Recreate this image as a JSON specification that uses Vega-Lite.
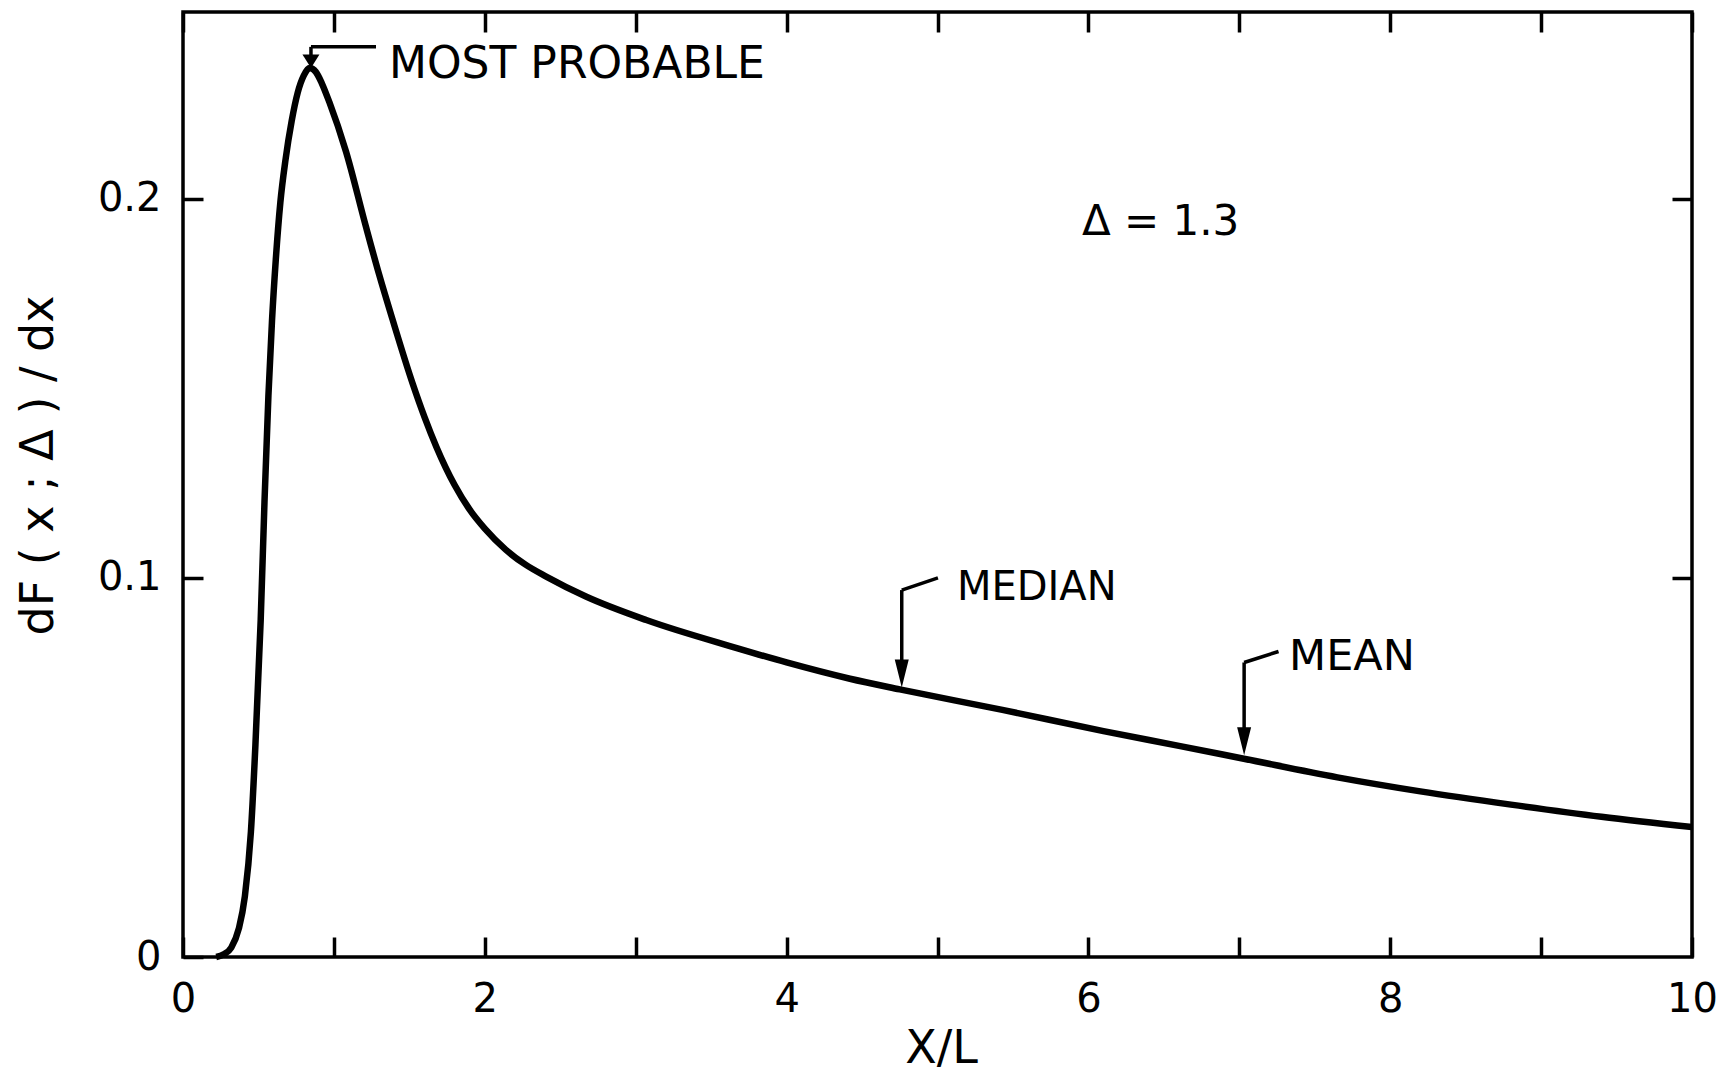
{
  "$schema": "https://vega.github.io/schema/vega-lite/v6.json",
  "width": 1509,
  "height": 945,
  "autosize": {"type": "none"},
  "padding": {"left": 183, "top": 12, "right": 28, "bottom": 119},
  "background": "white",
  "config": {
    "view": {"stroke": "black", "strokeWidth": 3.5},
    "font": "DejaVu Sans",
    "axis": {
      "domain": false, "grid": false,
      "tickColor": "black", "tickWidth": 3.5, "tickSize": -20,
      "labelColor": "black", "labelFont": "DejaVu Sans", "labelFontSize": 40, "labelPadding": 42,
      "labelFlush": false, "labelOverlap": false,
      "titleFont": "DejaVu Sans", "titleColor": "black", "titleFontWeight": "normal"
    }
  },
  "datasets": {
    "curve": [
      {"x": 0.22, "y": 0}, {"x": 0.27, "y": 0.0007}, {"x": 0.32, "y": 0.0025}, {"x": 0.37, "y": 0.0075},
      {"x": 0.41, "y": 0.016}, {"x": 0.45, "y": 0.033}, {"x": 0.48, "y": 0.056}, {"x": 0.515, "y": 0.089},
      {"x": 0.54, "y": 0.12}, {"x": 0.566, "y": 0.148}, {"x": 0.59, "y": 0.168}, {"x": 0.615, "y": 0.184},
      {"x": 0.645, "y": 0.199}, {"x": 0.68, "y": 0.2105}, {"x": 0.72, "y": 0.2205}, {"x": 0.76, "y": 0.228},
      {"x": 0.8, "y": 0.2325}, {"x": 0.84, "y": 0.2345}, {"x": 0.88, "y": 0.2335}, {"x": 0.92, "y": 0.2305},
      {"x": 0.97, "y": 0.2255}, {"x": 1.08, "y": 0.2125}, {"x": 1.21, "y": 0.193},
      {"x": 1.3, "y": 0.18}, {"x": 1.39, "y": 0.168}, {"x": 1.52, "y": 0.1515}, {"x": 1.6, "y": 0.1425},
      {"x": 1.68, "y": 0.1345}, {"x": 1.8, "y": 0.1245}, {"x": 1.9, "y": 0.118}, {"x": 2.0, "y": 0.113},
      {"x": 2.14, "y": 0.1074}, {"x": 2.27, "y": 0.1035}, {"x": 2.41, "y": 0.1003}, {"x": 2.67, "y": 0.0951},
      {"x": 3.07, "y": 0.0889}, {"x": 3.67, "y": 0.0815}, {"x": 4.0, "y": 0.0777}, {"x": 4.42, "y": 0.0734},
      {"x": 4.75, "y": 0.0706}, {"x": 5.43, "y": 0.0652}, {"x": 6.1, "y": 0.0596}, {"x": 6.6, "y": 0.0557},
      {"x": 7.03, "y": 0.0523}, {"x": 7.65, "y": 0.0474}, {"x": 8.2, "y": 0.0437}, {"x": 8.8, "y": 0.0402},
      {"x": 9.4, "y": 0.037}, {"x": 10, "y": 0.0343}
    ],
    "leaders": [
      {"x": 0.848, "y": 0.2401, "x2": 1.279, "y2": 0.2401},
      {"x": 0.848, "y": 0.2401, "x2": 0.848, "y2": 0.2372},
      {"x": 5.003, "y": 0.1, "x2": 4.763, "y2": 0.0968},
      {"x": 4.763, "y": 0.0968, "x2": 4.763, "y2": 0.078},
      {"x": 7.26, "y": 0.0806, "x2": 7.032, "y2": 0.0777},
      {"x": 7.032, "y": 0.0777, "x2": 7.032, "y2": 0.06}
    ],
    "heads": [
      {"x": 4.763, "y": 0.0748},
      {"x": 7.032, "y": 0.0569}
    ]
  },
  "resolve": {"axis": {"x": "independent", "y": "independent"}},
  "layer": [
    {
      "data": {"name": "curve"},
      "mark": {"type": "line", "color": "black", "strokeWidth": 6.5, "interpolate": "monotone"},
      "encoding": {
        "x": {"field": "x", "type": "quantitative", "scale": {"domain": [0, 10], "nice": false, "zero": false},
          "axis": {"orient": "bottom", "values": [0, 1, 2, 3, 4, 5, 6, 7, 8, 9, 10],
            "labelExpr": "datum.value % 2 === 0 ? datum.label : ''",
            "title": "X/L", "titleFontSize": 46, "titleX": 758, "titleY": 105,
            "titleBaseline": "alphabetic", "titleAlign": "center"}},
        "y": {"field": "y", "type": "quantitative", "scale": {"domain": [0, 0.2493], "nice": false},
          "axis": {"orient": "left", "values": [0, 0.1, 0.2],
            "labelExpr": "datum.value === 0 ? '0' : format(datum.value, '.1f')",
            "title": "dF  ( x ; Δ )  /  dx", "titleFontSize": 46, "titleAngle": -90,
            "titleX": -131, "titleY": 453, "titleBaseline": "alphabetic", "titleAlign": "center"}}
      }
    },
    {
      "data": {"name": "curve"},
      "mark": {"type": "point", "opacity": 0},
      "encoding": {
        "x": {"field": "x", "type": "quantitative", "scale": {"domain": [0, 10], "nice": false, "zero": false},
          "axis": {"orient": "top", "values": [0, 1, 2, 3, 4, 5, 6, 7, 8, 9, 10], "labels": false, "title": null}},
        "y": {"field": "y", "type": "quantitative", "scale": {"domain": [0, 0.2493], "nice": false},
          "axis": {"orient": "right", "values": [0.1, 0.2], "labels": false, "title": null}}
      }
    },
    {
      "data": {"name": "leaders"},
      "mark": {"type": "rule", "color": "black", "strokeWidth": 3.5},
      "encoding": {
        "x": {"field": "x", "type": "quantitative", "axis": null},
        "y": {"field": "y", "type": "quantitative", "axis": null},
        "x2": {"field": "x2"},
        "y2": {"field": "y2"}
      }
    },
    {
      "data": {"name": "heads"},
      "mark": {"type": "point", "filled": true, "color": "black", "opacity": 1, "strokeWidth": 0,
        "shape": "M -0.5 -1 L 0.5 -1 L 0 1 Z", "size": 784},
      "encoding": {
        "x": {"field": "x", "type": "quantitative", "axis": null},
        "y": {"field": "y", "type": "quantitative", "axis": null}
      }
    },
    {
      "data": {"values": [{}]},
      "mark": {"type": "point", "filled": true, "color": "black", "opacity": 1, "strokeWidth": 0,
        "shape": "M -1 -0.8 L 1 -0.8 L 0 0.8 Z", "size": 289},
      "encoding": {
        "x": {"datum": 0.848, "type": "quantitative", "axis": null},
        "y": {"datum": 0.2363, "type": "quantitative", "axis": null}
      }
    },
    {
      "data": {"values": [{}]},
      "mark": {"type": "text", "text": "MOST PROBABLE", "align": "left", "baseline": "alphabetic",
        "font": "DejaVu Sans", "fontSize": 44, "color": "black"},
      "encoding": {
        "x": {"datum": 1.365, "type": "quantitative", "axis": null},
        "y": {"datum": 0.2319, "type": "quantitative", "axis": null}
      }
    },
    {
      "data": {"values": [{}]},
      "mark": {"type": "text", "text": "Δ  = 1.3", "align": "left", "baseline": "alphabetic",
        "font": "DejaVu Sans", "fontSize": 42, "color": "black"},
      "encoding": {
        "x": {"datum": 5.957, "type": "quantitative", "axis": null},
        "y": {"datum": 0.1905, "type": "quantitative", "axis": null}
      }
    },
    {
      "data": {"values": [{}]},
      "mark": {"type": "text", "text": "MEDIAN", "align": "left", "baseline": "alphabetic",
        "font": "DejaVu Sans", "fontSize": 40, "color": "black"},
      "encoding": {
        "x": {"datum": 5.129, "type": "quantitative", "axis": null},
        "y": {"datum": 0.0942, "type": "quantitative", "axis": null}
      }
    },
    {
      "data": {"values": [{}]},
      "mark": {"type": "text", "text": "MEAN", "align": "left", "baseline": "alphabetic",
        "font": "DejaVu Sans", "fontSize": 43, "color": "black"},
      "encoding": {
        "x": {"datum": 7.33, "type": "quantitative", "axis": null},
        "y": {"datum": 0.0757, "type": "quantitative", "axis": null}
      }
    }
  ]
}
